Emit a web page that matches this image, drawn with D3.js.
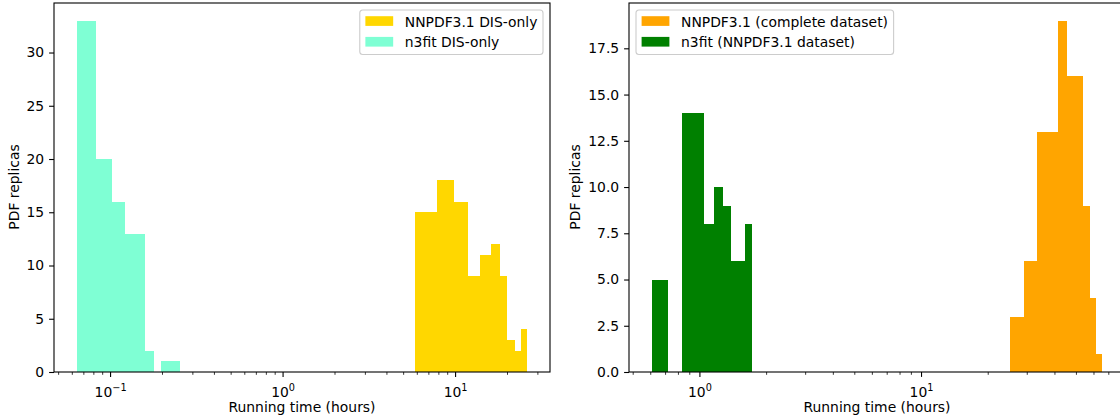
<!DOCTYPE html>
<html>
<head>
<meta charset="utf-8">
<script src="https://cdn.jsdelivr.net/npm/d3@7"></script>
<style>
  body { margin: 0; background: #fff; }
  svg { font-family: "DejaVu Sans", sans-serif; }
</style>
</head>
<body>
<svg id="chart" width="1120" height="420"></svg>
<script>
// histogram bin edges (hours) and counts
var disN3fitEdges = [0.0635, 0.0825, 0.1015, 0.1205, 0.1396, 0.1586, 0.1776, 0.1966, 0.2156, 0.2346, 0.2536];
var disN3fitCounts = [33, 20, 16, 13, 13, 2, 0, 1, 1, 1];
var disNnpdfEdges = [5.78, 7.78, 9.83, 11.85, 13.85, 15.95, 17.99, 19.96, 21.98, 24.0, 26.1];
var disNnpdfCounts = [15, 18, 16, 9, 11, 12, 9, 3, 2, 4];

var fullN3fitEdges = [0.605, 0.716, 0.826, 0.937, 1.047, 1.158, 1.269, 1.379, 1.490, 1.600, 1.711];
var fullN3fitCounts = [5, 0, 14, 14, 8, 10, 9, 6, 6, 8];
var fullNnpdfEdges = [24.95, 29.01, 33.07, 37.13, 41.19, 45.24, 49.30, 53.36, 57.42, 61.48, 65.53];
var fullNnpdfCounts = [3, 6, 13, 13, 19, 16, 16, 9, 4, 1];

var leftYTicks = [0, 5, 10, 15, 20, 25, 30];
var rightYTicks = [0, 2.5, 5, 7.5, 10, 12.5, 15, 17.5];

var FS = 13.9;
var svg = d3.select("#chart");

var toBins = function(edges, counts) {
  return counts.map(function(c, i) { return {x0: edges[i], x1: edges[i + 1], n: c}; });
};

var drawPanel = function(opt) {
  var g = svg.append("g");
  var allEdges = [];
  opt.series.forEach(function(s) { allEdges = allEdges.concat(s.edges); });
  var lo = Math.log10(d3.min(allEdges)), hi = Math.log10(d3.max(allEdges));
  var m = (hi - lo) * 0.05;
  var x = d3.scaleLog().domain([Math.pow(10, lo - m), Math.pow(10, hi + m)]).range([opt.left, opt.left + 496]);
  var maxN = d3.max(opt.series, function(s) { return d3.max(s.counts); });
  var y = d3.scaleLinear().domain([0, maxN * 1.05]).range([372, 3]);

  var clip = "clip" + opt.id;
  svg.append("clipPath").attr("id", clip).append("rect")
    .attr("x", opt.left).attr("y", 3).attr("width", 496).attr("height", 369);

  opt.series.forEach(function(s) {
    g.append("g").attr("clip-path", "url(#" + clip + ")")
      .selectAll("rect").data(toBins(s.edges, s.counts).filter(function(b) { return b.n > 0; }))
      .enter().append("rect")
      .attr("x", function(b) { return x(b.x0); })
      .attr("width", function(b) { return x(b.x1) - x(b.x0); })
      .attr("y", function(b) { return y(b.n); })
      .attr("height", function(b) { return y(0) - y(b.n); })
      .attr("fill", s.color)
      .attr("shape-rendering", "crispEdges");
  });

  // x axis, log ticks
  var d0 = x.domain()[0], d1 = x.domain()[1];
  var majors = [], minors = [];
  for (var e = Math.floor(Math.log10(d0)); e <= Math.ceil(Math.log10(d1)); e++) {
    for (var k = 1; k < 10; k++) {
      var v = k * Math.pow(10, e);
      if (v < d0 || v > d1) continue;
      if (k == 1) majors.push(e); else minors.push(v);
    }
  }
  var xa = g.append("g").attr("transform", "translate(0,372)");
  xa.selectAll(".mn").data(minors).enter().append("line")
    .attr("x1", function(v) { return x(v); }).attr("x2", function(v) { return x(v); })
    .attr("y1", 0).attr("y2", 2.8).attr("stroke", "#000").attr("stroke-width", 0.8);
  xa.selectAll(".mj").data(majors).enter().append("line")
    .attr("x1", function(e) { return x(Math.pow(10, e)); }).attr("x2", function(e) { return x(Math.pow(10, e)); })
    .attr("y1", 0).attr("y2", 4.9).attr("stroke", "#000").attr("stroke-width", 1.1);
  var lab = xa.selectAll(".lb").data(majors).enter().append("text")
    .attr("x", function(e) { return x(Math.pow(10, e)); })
    .attr("y", 25).attr("text-anchor", "middle").attr("font-size", FS);
  lab.append("tspan").text("10");
  lab.append("tspan").attr("dy", -6).attr("font-size", FS * 0.7)
    .text(function(e) { return e < 0 ? "\u2212" + (-e) : e; });

  g.append("text").attr("x", opt.left + 248).attr("y", 412)
    .attr("text-anchor", "middle").attr("font-size", FS).text("Running time (hours)");

  // y axis
  var ya = g.append("g").attr("transform", "translate(" + opt.left + ",0)")
    .call(d3.axisLeft(y).tickValues(opt.yTicks).tickSize(4.9).tickPadding(4.9).tickFormat(opt.fmt));
  ya.select(".domain").remove();
  ya.selectAll("text").attr("font-size", FS).attr("font-family", "DejaVu Sans").attr("fill", "#000");
  ya.selectAll("line").attr("stroke-width", 1.1);

  g.append("text").attr("transform", "translate(" + (opt.left - opt.ylabOff) + ",187) rotate(-90)")
    .attr("text-anchor", "middle").attr("font-size", FS).text("PDF replicas");

  // spines
  g.append("rect").attr("x", opt.left).attr("y", 3).attr("width", 496).attr("height", 369)
    .attr("fill", "none").attr("stroke", "#000").attr("stroke-width", 1.1);

  // legend
  var lg = g.append("g");
  var box = lg.append("rect").attr("rx", 3).attr("ry", 3)
    .attr("fill", "#fff").attr("fill-opacity", 0.8).attr("stroke", "#cccccc").attr("stroke-width", 1.1);
  var maxW = 0;
  var items = opt.series.slice().sort(function(a, b) { return a.order - b.order; });
  items.forEach(function(s, i) {
    var t = lg.append("text").attr("x", 45).attr("y", 11.5 + i * 20.7 + 5)
      .attr("font-size", FS).text(s.label);
    maxW = Math.max(maxW, t.node().getComputedTextLength());
    lg.append("rect").attr("x", 5.6).attr("y", 6.2 + i * 20.7).attr("width", 27.8).attr("height", 9.7)
      .attr("fill", s.color);
  });
  var bw = 45 + maxW + 5.6, bh = 44.5;
  box.attr("width", bw).attr("height", bh);
  var lx = opt.legendRight ? opt.left + 496 - 7 - bw : opt.left + 7;
  lg.attr("transform", "translate(" + lx + ",10)");
};

drawPanel({
  id: "a", left: 54, yTicks: leftYTicks, fmt: d3.format("d"), ylabOff: 35.5, legendRight: true,
  series: [
    {edges: disNnpdfEdges, counts: disNnpdfCounts, color: "#ffd700", label: "NNPDF3.1 DIS-only", order: 0},
    {edges: disN3fitEdges, counts: disN3fitCounts, color: "#7fffd4", label: "n3fit DIS-only", order: 1}
  ]
});
drawPanel({
  id: "b", left: 629, yTicks: rightYTicks, fmt: d3.format(".1f"), ylabOff: 49, legendRight: false,
  series: [
    {edges: fullNnpdfEdges, counts: fullNnpdfCounts, color: "#ffa500", label: "NNPDF3.1 (complete dataset)", order: 0},
    {edges: fullN3fitEdges, counts: fullN3fitCounts, color: "#008000", label: "n3fit (NNPDF3.1 dataset)", order: 1}
  ]
});
</script>
</body>
</html>
